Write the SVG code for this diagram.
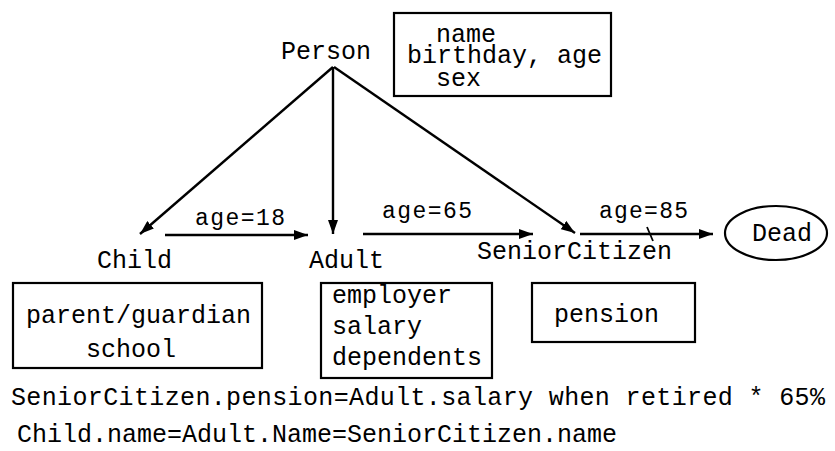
<svg xmlns="http://www.w3.org/2000/svg" width="835" height="451" viewBox="0 0 835 451">
  <defs>
    <marker id="arr" markerUnits="userSpaceOnUse" markerWidth="14" markerHeight="10" refX="14" refY="5" orient="auto">
      <path d="M0,0 L14,5 L0,10 z" fill="#000"/>
    </marker>
  </defs>
  <style>
    .t { font-family: "Liberation Mono", "Courier New", monospace; font-size: 25px; fill: #000; }
    .lbl { font-family: "Liberation Mono", "Courier New", monospace; font-size: 23px; fill: #000; }
    .box { fill: #fff; stroke: #000; stroke-width: 2.2; }
    .edge { stroke: #000; stroke-width: 2.4; fill: none; marker-end: url(#arr); }
  </style>
  <rect width="835" height="451" fill="#fff"/>

  <g id="connectors">
    <line class="edge" x1="333" y1="67" x2="140" y2="234"/>
    <line class="edge" x1="333" y1="67" x2="333" y2="234"/>
    <line class="edge" x1="334" y1="67" x2="575" y2="233"/>
    <line class="edge" x1="165" y1="235" x2="308" y2="235"/>
    <line class="edge" x1="363" y1="234" x2="533" y2="234"/>
    <line class="edge" x1="580" y1="234" x2="713" y2="234"/>
    <line x1="647" y1="227" x2="653" y2="241" stroke="#000" stroke-width="1.8"/>
    <text class="lbl" x="195" y="225" textLength="90" lengthAdjust="spacing">age=18</text>
    <text class="lbl" x="382" y="218" textLength="90" lengthAdjust="spacing">age=65</text>
    <text class="lbl" x="599" y="218" textLength="89" lengthAdjust="spacing">age=85</text>
  </g>

  <g id="person">
    <text class="t" x="281" y="59">Person</text>
    <rect class="box" x="394" y="13" width="217" height="83"/>
    <text class="t" x="436" y="42">name</text>
    <text class="t" x="407" y="63">birthday, age</text>
    <text class="t" x="436" y="86">sex</text>
  </g>

  <g id="child">
    <text class="t" x="97" y="268">Child</text>
    <rect class="box" x="13" y="283" width="249" height="85"/>
    <text class="t" x="26" y="323">parent/guardian</text>
    <text class="t" x="86" y="357">school</text>
  </g>

  <g id="adult">
    <text class="t" x="309" y="268">Adult</text>
    <rect class="box" x="321" y="283" width="171" height="95"/>
    <text class="t" x="332" y="303">employer</text>
    <text class="t" x="332" y="334">salary</text>
    <text class="t" x="332" y="365">dependents</text>
  </g>

  <g id="senior">
    <text class="t" x="477" y="259">SeniorCitizen</text>
    <rect class="box" x="532" y="283" width="163" height="59"/>
    <text class="t" x="554" y="322">pension</text>
  </g>

  <g id="dead">
    <ellipse cx="776" cy="233" rx="51" ry="27" fill="#fff" stroke="#000" stroke-width="2.2"/>
    <text class="t" x="782" y="241" text-anchor="middle">Dead</text>
  </g>

  <g id="notes">
    <text class="t" x="11" y="405" textLength="814" lengthAdjust="spacing">SeniorCitizen.pension=Adult.salary when retired * 65%</text>
    <text class="t" x="17" y="442">Child.name=Adult.Name=SeniorCitizen.name</text>
  </g>
</svg>
